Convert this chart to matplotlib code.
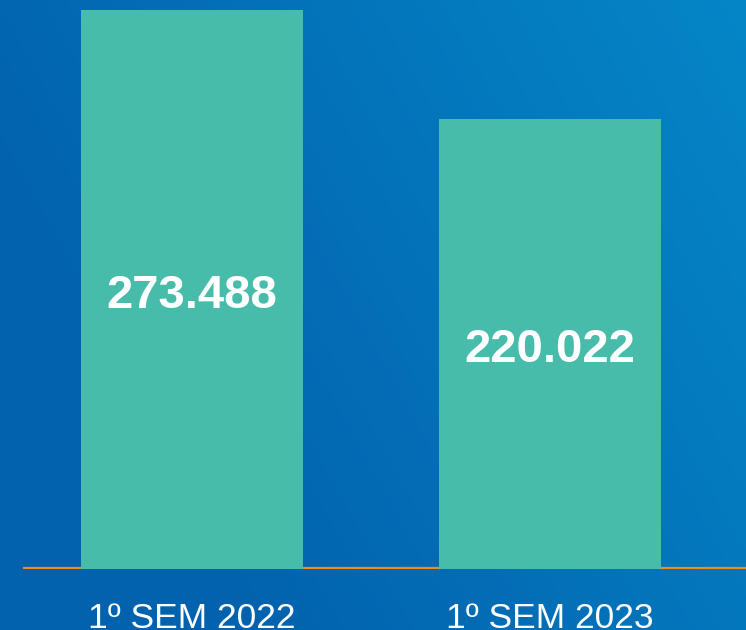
import numpy as np
import matplotlib
matplotlib.use('Agg')
import matplotlib.pyplot as plt
from matplotlib.colors import LinearSegmentedColormap

categories = ['1º SEM 2022', '1º SEM 2023']
values = [273488, 220022]
value_labels = ['273.488', '220.022']

plt.rcParams['font.family'] = ['Liberation Sans', 'DejaVu Sans']

fig = plt.figure(figsize=(7.46, 6.3), dpi=100)

# background gradient
bg = fig.add_axes([0, 0, 1, 1])
bg.set_axis_off()
xx, yy = np.meshgrid(np.linspace(0, 1, 300), np.linspace(0, 1, 300))
grad = np.clip(0.75 * xx + 0.35 * yy - 0.25, 0, 1)
cmap = LinearSegmentedColormap.from_list('bg', ['#0262AE', '#0586C7'])
bg.imshow(grad, cmap=cmap, origin='lower', extent=[0, 1, 0, 1], aspect='auto')
bg.set_xlim(0, 1)
bg.set_ylim(0, 1)

ax = fig.add_axes([23 / 746, 1 - 569 / 630, 1 - 23 / 746, 569 / 630])
ax.patch.set_alpha(0)
x = np.arange(len(categories))
ymax = values[0] * 569 / 559
ax.bar(x, values, width=0.62, color='#47BCAB', zorder=2)
# orange baseline sits just above the bottom, bars drawn over it
ax.axhline(ymax * 1.2 / 569, color='#F08C1E', lw=1.6, zorder=1)
ax.set_xlim(-0.472, 1.547)
ax.set_ylim(0, ymax)

for xi, v, lab in zip(x, values, value_labels):
    ax.annotate(lab, (xi, v / 2), xytext=(0, -13), textcoords='offset points',
                ha='center', va='baseline', color='white',
                fontsize=34, fontweight='bold', zorder=3)

ax.set_xticks(x)
ax.set_xticklabels(categories, color='white', fontsize=25.5)
ax.tick_params(axis='x', length=0, pad=24)
ax.set_yticks([])
for s in ax.spines.values():
    s.set_visible(False)

fig.savefig('out.png', dpi=100)
